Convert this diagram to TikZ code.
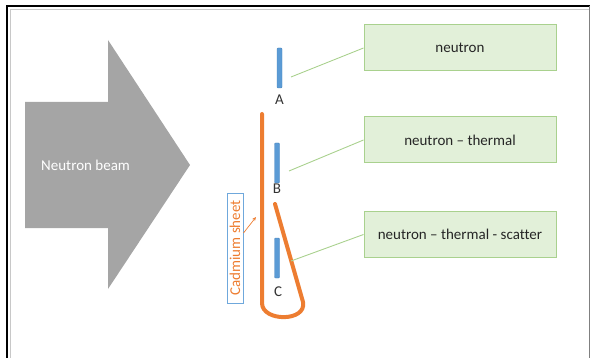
\documentclass[tikz,border=0pt]{standalone}
\usepackage{fontspec}
\setmainfont{Carlito}[Ligatures=NoCommon]
\usetikzlibrary{arrows.meta}
\definecolor{beamgray}{HTML}{A5A5A5}
\definecolor{sheetorange}{HTML}{ED7D31}
\definecolor{barblue}{HTML}{5B9BD5}
\definecolor{barblueedge}{HTML}{4A86C0}
\definecolor{tagblue}{HTML}{6FA8DC}
\definecolor{boxfill}{HTML}{E2F0D9}
\definecolor{boxedge}{HTML}{A9D18E}
\definecolor{labelgray}{HTML}{333333}
\definecolor{framegray}{HTML}{808080}
\definecolor{framelight}{HTML}{C8C8C8}
\tikzset{
  infobox/.style={draw=boxedge, line width=1pt, fill=boxfill, minimum width=192pt,
    minimum height=46pt, inner sep=0pt, font=\fontsize{15}{18}\selectfont, text=black!85},
  detector/.style={draw=barblueedge, line width=0.4pt, fill=barblue, rounded corners=1pt,
    minimum width=5pt, minimum height=40pt, inner sep=0pt},
  detlabel/.style={text=labelgray, font=\fontsize{15}{18}\selectfont, inner sep=0pt},
  leader/.style={draw=boxedge, line width=0.9pt},
  sheet/.style={draw=sheetorange, line width=4pt, line cap=round, line join=round},
}
\begin{document}
\begin{tikzpicture}[x=1pt, y=-1pt]
  \useasboundingbox (0,0) rectangle (591,358);
  % window frame
  \draw[black, line width=2.2pt] (7,358) -- (7,6) -- (590,6);
  \draw[framegray, line width=1.5pt] (589.5,6) -- (589.5,358);
  \draw[framelight, line width=1pt] (10,358) -- (10,9.5) -- (588.5,9.5);

  % neutron beam arrow
  \fill[beamgray] (25,102) -- (108,102) -- (108,40) -- (190,165) -- (108,289)
    -- (108,228) -- (25,228) -- cycle;
  \node[anchor=west, text=white, font=\fontsize{15}{18}\selectfont, inner sep=0pt]
    (beam) at (41,165) {Neutron beam};

  % cadmium sheet folded round detector C
  \draw[sheet] (262,114) -- (262,303)
    .. controls (262,322) and (307,322) .. (303,302) -- (275,204);

  % detectors
  \node[detector] (barA) at (279.5,68) {};
  \node[detector] (barB) at (277,163) {};
  \node[detector] (barC) at (277,258) {};
  \node[detlabel] (labA) at (279.5,100) {A};
  \node[detlabel] (labB) at (277,189) {B};
  \node[detlabel] (labC) at (278,292) {C};

  % cadmium sheet label
  \node[rotate=90, draw=tagblue, line width=1pt, text=sheetorange,
    font=\fontsize{15}{18}\selectfont, inner xsep=7pt, inner ysep=0pt,
    minimum height=16pt, minimum width=110pt] (cad) at (235,248) {Cadmium sheet};
  \coordinate (cadtip) at (256,217);
  \draw[sheetorange, line width=0.7pt, -{Stealth[length=4pt,width=3.5pt]}]
    ([yshift=15pt]cad.south) -- (cadtip);

  % description boxes
  \node[infobox] (boxA) at (460,48) {neutron};
  \node[infobox] (boxB) at (460,140) {neutron -- thermal};
  \node[infobox] (boxC) at (460,234.5) {neutron -- thermal - scatter};

  % leader lines
  \coordinate (endA) at (291,77);
  \coordinate (endB) at (289,171);
  \coordinate (endC) at (291,261);
  \draw[leader] (boxA.west) -- (endA);
  \draw[leader] (boxB.west) -- (endB);
  \draw[leader] (boxC.west) -- (endC);
\end{tikzpicture}
\end{document}
